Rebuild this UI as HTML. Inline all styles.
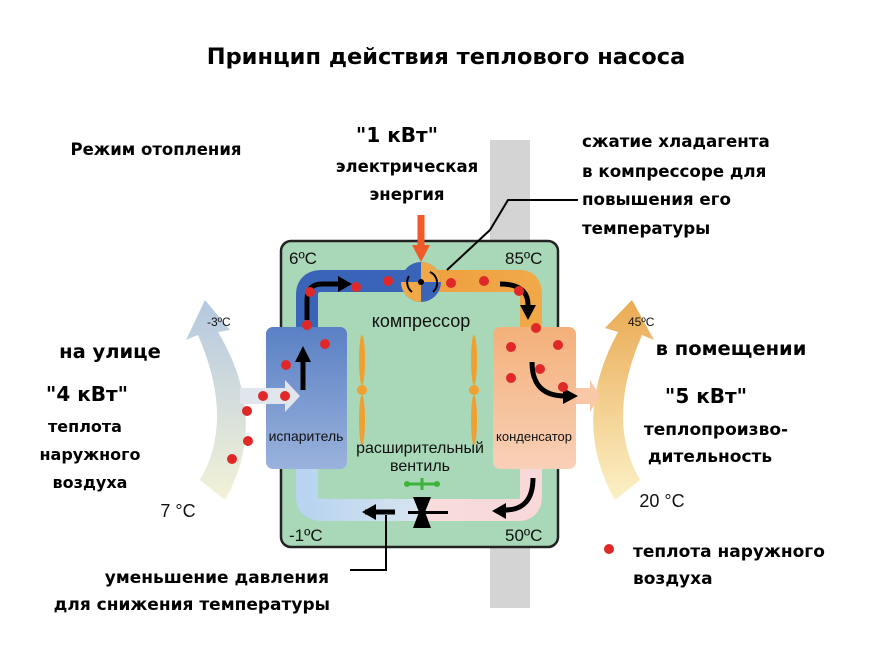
<!DOCTYPE html>
<html><head><meta charset="utf-8"><style>
body{margin:0;background:#fff;width:892px;height:660px;overflow:hidden}
svg text{font-family:"Liberation Sans","DejaVu Sans",sans-serif}
svg .b{font-family:"DejaVu Sans","Liberation Sans",sans-serif;font-weight:bold}
</style></head><body>
<svg width="892" height="660" viewBox="0 0 892 660" xmlns="http://www.w3.org/2000/svg">
<defs>
<linearGradient id="lg" x1="0" y1="0" x2="0" y2="1"><stop offset="0" stop-color="#a8bedc"/><stop offset="1" stop-color="#f0f0d0"/></linearGradient>
<linearGradient id="rg" x1="0" y1="0" x2="0" y2="1"><stop offset="0" stop-color="#e8a040"/><stop offset="1" stop-color="#fbf0c0"/></linearGradient>
<linearGradient id="ev" x1="0" y1="0" x2="0" y2="1"><stop offset="0" stop-color="#5a80c4"/><stop offset="1" stop-color="#9ab2dc"/></linearGradient>
<linearGradient id="co" x1="0" y1="0" x2="0" y2="1"><stop offset="0" stop-color="#f4b07a"/><stop offset="1" stop-color="#f8d0b8"/></linearGradient>
<linearGradient id="bot" x1="0" y1="0" x2="1" y2="0"><stop offset="0" stop-color="#b8d4f0"/><stop offset="0.5" stop-color="#d8e4f0"/><stop offset="0.55" stop-color="#f8dcdc"/><stop offset="1" stop-color="#f8d8d8"/></linearGradient>
<linearGradient id="top" x1="0" y1="0" x2="1" y2="0"><stop offset="0" stop-color="#3a64b8"/><stop offset="0.45" stop-color="#3a64b8"/><stop offset="0.55" stop-color="#f0a040"/><stop offset="1" stop-color="#f0a848"/></linearGradient>
</defs>
<text class="b" x="446" y="64" font-size="22.5" text-anchor="middle">Принцип действия теплового насоса</text>
<rect x="490" y="140" width="40" height="468" fill="#d4d4d4"/>
<text class="b" x="156" y="155" font-size="16.5" text-anchor="middle">Режим отопления</text>
<text class="b" x="397" y="142" font-size="20" text-anchor="middle">"1 кВт"</text>
<text class="b" x="407" y="172" font-size="16.5" text-anchor="middle">электрическая</text>
<text class="b" x="407" y="200" font-size="16.5" text-anchor="middle">энергия</text>
<g font-size="16.7">
<text class="b" x="582" y="147">сжатие хладагента</text>
<text class="b" x="582" y="177">в компрессоре для</text>
<text class="b" x="582" y="205">повышения его</text>
<text class="b" x="582" y="234">температуры</text>
</g>
<rect x="281" y="241" width="277" height="306" rx="10" fill="#a8d8b8" stroke="#222" stroke-width="2.5"/>
<path d="M205 300 L230 330 L218 332 Q270 420 225 500 L200 480 Q235 420 198 335 L186 340 Z" fill="url(#lg)" opacity="0.85"/>
<path d="M632 300 L605 328 L618 332 Q570 420 615 500 L640 480 Q605 420 642 335 L654 340 Z" fill="url(#rg)" opacity="0.9"/>
<path d="M307 330 L307 295 Q307 281 322 281 L520 281 Q531 281 531 295 L531 330" fill="none" stroke="url(#top)" stroke-width="22"/>
<path d="M307 465 L307 496 Q307 510 322 510 L518 510 Q531 510 531 496 L531 465" fill="none" stroke="url(#bot)" stroke-width="22"/>
<rect x="266" y="327" width="81" height="142" rx="7" fill="url(#ev)"/>
<rect x="493" y="327" width="83" height="142" rx="7" fill="url(#co)"/>
<path d="M240 388 L285 388 L285 380 L300 396 L285 412 L285 404 L240 404 Z" fill="#e0e6ec"/>
<path d="M576 388 L590 388 L590 380 L600 396 L590 412 L590 404 L576 404 Z" fill="#f8c8a8"/>
<circle cx="421" cy="282" r="20" fill="#3a64b8"/>
<path d="M421 262 A20 20 0 0 1 441 282 L421 282 Z M401 282 A20 20 0 0 0 421 302 L421 282 Z" fill="#f0a848"/>
<circle cx="421" cy="282" r="3" fill="#000"/>
<path d="M430 272 A12 12 0 0 1 433 292 M412 292 A12 12 0 0 1 409 276" fill="none" stroke="#000" stroke-width="2"/>
<path d="M421 215 L421 250" stroke="#f05a28" stroke-width="7"/><path d="M412 245 L430 245 L421 262 Z" fill="#f05a28"/>
<path d="M447 270 L490 230" stroke="#000" stroke-width="2"/>
<path d="M490 230 L508 200 L578 200" fill="none" stroke="#000" stroke-width="2"/>
<g fill="none" stroke="#000" stroke-width="5">
<path d="M307 320 L307 300 Q307 284 322 284 L340 284"/>
<path d="M303 390 L303 360"/>
<path d="M500 284 Q528 284 528 305"/>
<path d="M532 362 Q532 396 565 396"/>
<path d="M533 478 Q533 510 505 510"/>
<path d="M395 512 L365 512"/>
</g>
<g fill="#000">
<path d="M338 276 L352 284 L338 292 Z"/><path d="M295 362 L303 346 L311 362 Z"/>
<path d="M520 305 L536 305 L528 320 Z"/><path d="M563 388 L578 396 L563 404 Z"/>
<path d="M506 503 L492 511 L506 519 Z"/><path d="M376 504 L362 512 L376 520 Z"/>
<path d="M413 497 L431 497 L425 512 L431 528 L413 528 L419 512 Z"/>
<rect x="408" y="511" width="40" height="3"/>
</g>
<g stroke="#3cb43c" stroke-width="3"><path d="M407 484 L438 484 M422 478 L422 490"/></g>
<circle cx="407" cy="484" r="3" fill="#3cb43c"/><circle cx="437" cy="484" r="3" fill="#3cb43c"/>
<g fill="#f0a030"><ellipse cx="362" cy="360" rx="3" ry="25"/><ellipse cx="362" cy="420" rx="3" ry="25"/><circle cx="362" cy="390" r="5"/>
<ellipse cx="474" cy="360" rx="3" ry="25"/><ellipse cx="474" cy="420" rx="3" ry="25"/><circle cx="474" cy="390" r="5"/></g>
<g fill="#e02828">
<circle cx="310" cy="292" r="5"/><circle cx="356" cy="287" r="5"/><circle cx="388" cy="281" r="5"/><circle cx="451" cy="283" r="5"/><circle cx="484" cy="281" r="5"/><circle cx="519" cy="291" r="5"/>
<circle cx="307" cy="325" r="5"/><circle cx="325" cy="344" r="5"/><circle cx="286" cy="365" r="5"/><circle cx="263" cy="396" r="5"/><circle cx="285" cy="396" r="5"/><circle cx="247" cy="411" r="5"/><circle cx="248" cy="441" r="5"/><circle cx="232" cy="459" r="5"/>
<circle cx="536" cy="328" r="5"/><circle cx="511" cy="347" r="5"/><circle cx="558" cy="345" r="5"/><circle cx="540" cy="369" r="5"/><circle cx="511" cy="378" r="5"/><circle cx="563" cy="387" r="5"/>
<circle cx="609" cy="549" r="5"/>
</g>
<g font-size="17" fill="#111">
<text x="289" y="264">6ºC</text><text x="505" y="264">85ºC</text>
<text x="289" y="541">-1ºC</text><text x="505" y="541">50ºC</text>
<text x="421" y="327" font-size="18" text-anchor="middle">компрессор</text>
<text x="306" y="441" font-size="14" text-anchor="middle">испаритель</text>
<text x="534" y="441" font-size="13" text-anchor="middle">конденсатор</text>
<text x="420" y="453" font-size="16" text-anchor="middle">расширительный</text>
<text x="420" y="471" font-size="16" text-anchor="middle">вентиль</text>
<text x="207" y="326" font-size="12">-3ºC</text><text x="628" y="326" font-size="12">45ºC</text>
<text x="178" y="517" font-size="18" text-anchor="middle">7 °C</text>
<text x="662" y="507" font-size="18" text-anchor="middle">20 °C</text>
</g>
<g text-anchor="middle">
<text class="b" x="110" y="358" font-size="19.5">на улице</text>
<text class="b" x="87" y="401" font-size="20">"4 кВт"</text>
<text class="b" x="85" y="432" font-size="16">теплота</text>
<text class="b" x="90" y="460" font-size="16">наружного</text>
<text class="b" x="90" y="488" font-size="16">воздуха</text>
<text class="b" x="731" y="355" font-size="19.5">в помещении</text>
<text class="b" x="706" y="403" font-size="20">"5 кВт"</text>
<text class="b" x="716" y="435" font-size="17">теплопроизво-</text>
<text class="b" x="710" y="462" font-size="17">дительность</text>
</g>
<text class="b" x="329" y="583" font-size="17" text-anchor="end">уменьшение давления</text>
<text class="b" x="330" y="610" font-size="17" text-anchor="end">для снижения температуры</text>
<text class="b" x="633" y="557" font-size="17">теплота наружного</text><text class="b" x="633" y="584" font-size="17">воздуха</text>
<path d="M386 515 L386 570 L350 570" fill="none" stroke="#000" stroke-width="2"/>
</svg>
</body></html>
